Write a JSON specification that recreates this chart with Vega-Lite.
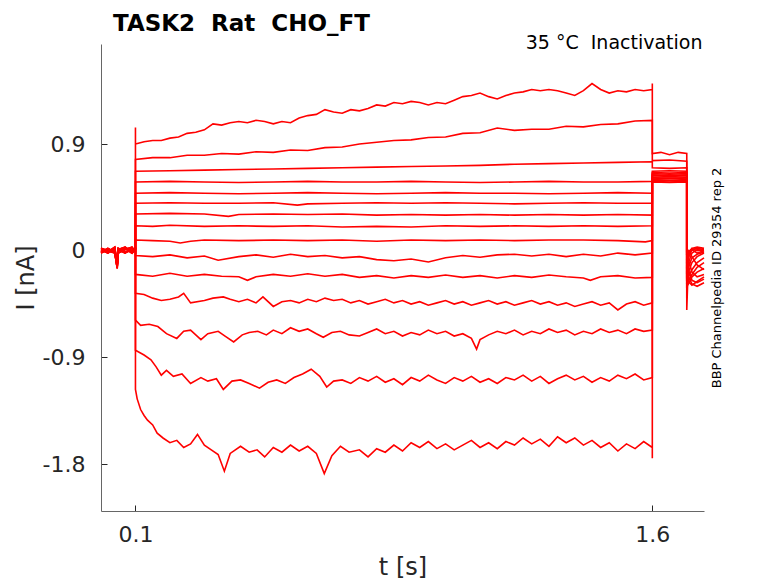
{
  "$schema": "https://vega.github.io/schema/vega-lite/v6.json",
  "width": 603,
  "height": 467,
  "autosize": "none",
  "padding": {"left": 101, "top": 44, "right": 74, "bottom": 72},
  "background": "white",
  "config": {"font": "DejaVu Sans", "view": {"stroke": null}},
  "title": {
    "text": "TASK2\u00a0 Rat\u00a0 CHO_FT",
    "anchor": "start",
    "frame": "group",
    "fontSize": 23,
    "fontWeight": "bold",
    "color": "#000000",
    "baseline": "alphabetic",
    "offset": -20,
    "dx": 12
  },
  "data": {
    "values": [
      {"s":1,"t":0,"i":0.01},{"s":1,"t":0.02,"i":-0.02},{"s":1,"t":0.04,"i":0.02},{"s":1,"t":0.047,"i":-0.13},{"s":1,"t":0.05,"i":0.0},{"s":1,"t":0.07,"i":0.02},{"s":1,"t":0.09,"i":-0.02},{"s":1,"t":0.1,"i":0.01},
      {"s":1,"t":0.1,"i":1.04},{"s":1,"t":0.1,"i":0.90},
      {"s":1,"t":0.125,"i":0.92},{"s":1,"t":0.15,"i":0.93},{"s":1,"t":0.175,"i":0.93},{"s":1,"t":0.2,"i":0.95},{"s":1,"t":0.225,"i":0.96},{"s":1,"t":0.25,"i":0.99},
      {"s":1,"t":0.275,"i":1.00},{"s":1,"t":0.3,"i":1.02},{"s":1,"t":0.325,"i":1.07},{"s":1,"t":0.35,"i":1.06},{"s":1,"t":0.375,"i":1.08},{"s":1,"t":0.4,"i":1.09},
      {"s":1,"t":0.425,"i":1.08},{"s":1,"t":0.45,"i":1.10},{"s":1,"t":0.475,"i":1.09},{"s":1,"t":0.5,"i":1.07},{"s":1,"t":0.525,"i":1.09},{"s":1,"t":0.55,"i":1.08},
      {"s":1,"t":0.575,"i":1.12},{"s":1,"t":0.6,"i":1.14},{"s":1,"t":0.625,"i":1.15},{"s":1,"t":0.65,"i":1.19},{"s":1,"t":0.675,"i":1.17},{"s":1,"t":0.7,"i":1.16},
      {"s":1,"t":0.725,"i":1.19},{"s":1,"t":0.75,"i":1.18},{"s":1,"t":0.775,"i":1.20},{"s":1,"t":0.8,"i":1.23},{"s":1,"t":0.825,"i":1.22},{"s":1,"t":0.85,"i":1.25},
      {"s":1,"t":0.875,"i":1.24},{"s":1,"t":0.9,"i":1.26},{"s":1,"t":0.925,"i":1.25},{"s":1,"t":0.95,"i":1.23},{"s":1,"t":0.975,"i":1.25},{"s":1,"t":1.0,"i":1.24},
      {"s":1,"t":1.025,"i":1.27},{"s":1,"t":1.05,"i":1.30},{"s":1,"t":1.075,"i":1.31},{"s":1,"t":1.1,"i":1.33},{"s":1,"t":1.125,"i":1.30},{"s":1,"t":1.15,"i":1.28},
      {"s":1,"t":1.175,"i":1.31},{"s":1,"t":1.2,"i":1.33},{"s":1,"t":1.225,"i":1.34},{"s":1,"t":1.25,"i":1.36},{"s":1,"t":1.275,"i":1.35},{"s":1,"t":1.3,"i":1.36},
      {"s":1,"t":1.325,"i":1.35},{"s":1,"t":1.35,"i":1.33},{"s":1,"t":1.375,"i":1.31},{"s":1,"t":1.4,"i":1.35},{"s":1,"t":1.425,"i":1.41},{"s":1,"t":1.45,"i":1.36},
      {"s":1,"t":1.475,"i":1.33},{"s":1,"t":1.5,"i":1.35},{"s":1,"t":1.525,"i":1.34},{"s":1,"t":1.55,"i":1.36},{"s":1,"t":1.575,"i":1.35},{"s":1,"t":1.6,"i":1.36},
      {"s":1,"t":1.6,"i":1.41},{"s":1,"t":1.6,"i":0.82},{"s":1,"t":1.625,"i":0.83},{"s":1,"t":1.65,"i":0.81},{"s":1,"t":1.675,"i":0.83},{"s":1,"t":1.7,"i":0.82},
      {"s":1,"t":1.7,"i":-0.50},{"s":1,"t":1.705,"i":-0.06},{"s":1,"t":1.715,"i":0.02},{"s":1,"t":1.73,"i":0.03},{"s":1,"t":1.75,"i":0.02},

      {"s":2,"t":0,"i":-0.01},{"s":2,"t":0.02,"i":0.02},{"s":2,"t":0.04,"i":-0.01},{"s":2,"t":0.047,"i":-0.15},{"s":2,"t":0.05,"i":0.01},{"s":2,"t":0.07,"i":-0.02},{"s":2,"t":0.09,"i":0.02},{"s":2,"t":0.1,"i":0.0},
      {"s":2,"t":0.1,"i":0.77},{"s":2,"t":0.15,"i":0.785},{"s":2,"t":0.2,"i":0.785},{"s":2,"t":0.25,"i":0.805},{"s":2,"t":0.3,"i":0.805},{"s":2,"t":0.35,"i":0.82},
      {"s":2,"t":0.4,"i":0.815},{"s":2,"t":0.45,"i":0.835},{"s":2,"t":0.5,"i":0.83},{"s":2,"t":0.55,"i":0.85},{"s":2,"t":0.6,"i":0.845},{"s":2,"t":0.65,"i":0.87},
      {"s":2,"t":0.7,"i":0.875},{"s":2,"t":0.75,"i":0.90},{"s":2,"t":0.8,"i":0.915},{"s":2,"t":0.85,"i":0.93},{"s":2,"t":0.9,"i":0.935},{"s":2,"t":0.95,"i":0.955},
      {"s":2,"t":1.0,"i":0.96},{"s":2,"t":1.05,"i":0.99},{"s":2,"t":1.1,"i":0.995},{"s":2,"t":1.15,"i":1.035},{"s":2,"t":1.2,"i":1.015},{"s":2,"t":1.25,"i":1.025},
      {"s":2,"t":1.3,"i":1.025},{"s":2,"t":1.35,"i":1.05},{"s":2,"t":1.4,"i":1.045},{"s":2,"t":1.45,"i":1.065},{"s":2,"t":1.5,"i":1.07},{"s":2,"t":1.55,"i":1.095},
      {"s":2,"t":1.6,"i":1.10},{"s":2,"t":1.6,"i":0.76},{"s":2,"t":1.65,"i":0.765},{"s":2,"t":1.7,"i":0.755},
      {"s":2,"t":1.7,"i":-0.40},{"s":2,"t":1.705,"i":-0.03},{"s":2,"t":1.715,"i":0.01},{"s":2,"t":1.73,"i":0.02},{"s":2,"t":1.75,"i":0.01},

      {"s":3,"t":0,"i":0.0},{"s":3,"t":0.02,"i":-0.01},{"s":3,"t":0.04,"i":0.03},{"s":3,"t":0.047,"i":-0.12},{"s":3,"t":0.05,"i":-0.02},{"s":3,"t":0.07,"i":0.01},{"s":3,"t":0.09,"i":0.03},{"s":3,"t":0.1,"i":-0.01},
      {"s":3,"t":0.1,"i":0.67},{"s":3,"t":0.2,"i":0.675},{"s":3,"t":0.3,"i":0.68},{"s":3,"t":0.4,"i":0.685},{"s":3,"t":0.5,"i":0.69},{"s":3,"t":0.6,"i":0.695},
      {"s":3,"t":0.7,"i":0.70},{"s":3,"t":0.8,"i":0.705},{"s":3,"t":0.9,"i":0.71},{"s":3,"t":1.0,"i":0.715},{"s":3,"t":1.1,"i":0.72},{"s":3,"t":1.2,"i":0.73},
      {"s":3,"t":1.3,"i":0.735},{"s":3,"t":1.4,"i":0.74},{"s":3,"t":1.5,"i":0.745},{"s":3,"t":1.6,"i":0.75},
      {"s":3,"t":1.6,"i":0.70},{"s":3,"t":1.65,"i":0.695},{"s":3,"t":1.7,"i":0.70},
      {"s":3,"t":1.7,"i":-0.32},{"s":3,"t":1.705,"i":-0.01},{"s":3,"t":1.715,"i":0.02},{"s":3,"t":1.73,"i":0.0},{"s":3,"t":1.75,"i":0.01},

      {"s":4,"t":0,"i":0.02},{"s":4,"t":0.02,"i":0.0},{"s":4,"t":0.04,"i":-0.02},{"s":4,"t":0.047,"i":-0.14},{"s":4,"t":0.05,"i":0.02},{"s":4,"t":0.07,"i":-0.01},{"s":4,"t":0.09,"i":0.0},{"s":4,"t":0.1,"i":0.02},
      {"s":4,"t":0.1,"i":0.58},{"s":4,"t":0.2,"i":0.585},{"s":4,"t":0.3,"i":0.58},{"s":4,"t":0.4,"i":0.575},{"s":4,"t":0.5,"i":0.58},{"s":4,"t":0.6,"i":0.585},
      {"s":4,"t":0.7,"i":0.58},{"s":4,"t":0.8,"i":0.58},{"s":4,"t":0.9,"i":0.585},{"s":4,"t":1.0,"i":0.58},{"s":4,"t":1.1,"i":0.575},{"s":4,"t":1.2,"i":0.58},
      {"s":4,"t":1.3,"i":0.585},{"s":4,"t":1.4,"i":0.58},{"s":4,"t":1.5,"i":0.58},{"s":4,"t":1.6,"i":0.585},
      {"s":4,"t":1.6,"i":0.67},{"s":4,"t":1.65,"i":0.675},{"s":4,"t":1.7,"i":0.67},
      {"s":4,"t":1.7,"i":-0.28},{"s":4,"t":1.705,"i":-0.10},{"s":4,"t":1.715,"i":-0.02},{"s":4,"t":1.73,"i":0.01},{"s":4,"t":1.75,"i":0.0},

      {"s":5,"t":0,"i":-0.02},{"s":5,"t":0.02,"i":0.01},{"s":5,"t":0.04,"i":0.0},{"s":5,"t":0.047,"i":-0.11},{"s":5,"t":0.05,"i":0.01},{"s":5,"t":0.07,"i":0.03},{"s":5,"t":0.09,"i":-0.01},{"s":5,"t":0.1,"i":0.01},
      {"s":5,"t":0.1,"i":0.485},{"s":5,"t":0.2,"i":0.49},{"s":5,"t":0.3,"i":0.485},{"s":5,"t":0.4,"i":0.48},{"s":5,"t":0.5,"i":0.485},{"s":5,"t":0.6,"i":0.49},
      {"s":5,"t":0.7,"i":0.485},{"s":5,"t":0.8,"i":0.48},{"s":5,"t":0.9,"i":0.485},{"s":5,"t":1.0,"i":0.49},{"s":5,"t":1.1,"i":0.485},{"s":5,"t":1.2,"i":0.485},
      {"s":5,"t":1.3,"i":0.48},{"s":5,"t":1.4,"i":0.485},{"s":5,"t":1.5,"i":0.49},{"s":5,"t":1.6,"i":0.485},
      {"s":5,"t":1.6,"i":0.66},{"s":5,"t":1.65,"i":0.655},{"s":5,"t":1.7,"i":0.66},
      {"s":5,"t":1.7,"i":-0.25},{"s":5,"t":1.705,"i":-0.05},{"s":5,"t":1.715,"i":0.01},{"s":5,"t":1.73,"i":-0.02},{"s":5,"t":1.75,"i":0.0},

      {"s":6,"t":0,"i":0.01},{"s":6,"t":0.02,"i":-0.02},{"s":6,"t":0.04,"i":0.02},{"s":6,"t":0.047,"i":-0.13},{"s":6,"t":0.05,"i":0.0},{"s":6,"t":0.07,"i":0.02},{"s":6,"t":0.09,"i":-0.02},{"s":6,"t":0.1,"i":0.01},
      {"s":6,"t":0.1,"i":0.40},{"s":6,"t":0.2,"i":0.405},{"s":6,"t":0.3,"i":0.40},{"s":6,"t":0.4,"i":0.40},{"s":6,"t":0.5,"i":0.405},{"s":6,"t":0.57,"i":0.385},
      {"s":6,"t":0.6,"i":0.395},{"s":6,"t":0.7,"i":0.40},{"s":6,"t":0.8,"i":0.405},{"s":6,"t":0.9,"i":0.40},{"s":6,"t":1.0,"i":0.405},{"s":6,"t":1.1,"i":0.40},
      {"s":6,"t":1.2,"i":0.395},{"s":6,"t":1.3,"i":0.40},{"s":6,"t":1.4,"i":0.405},{"s":6,"t":1.5,"i":0.40},{"s":6,"t":1.6,"i":0.40},
      {"s":6,"t":1.6,"i":0.65},{"s":6,"t":1.65,"i":0.645},{"s":6,"t":1.7,"i":0.65},
      {"s":6,"t":1.7,"i":-0.22},{"s":6,"t":1.705,"i":-0.14},{"s":6,"t":1.715,"i":-0.06},{"s":6,"t":1.73,"i":-0.03},{"s":6,"t":1.75,"i":-0.01},

      {"s":7,"t":0,"i":-0.01},{"s":7,"t":0.02,"i":0.02},{"s":7,"t":0.04,"i":-0.01},{"s":7,"t":0.047,"i":-0.15},{"s":7,"t":0.05,"i":0.01},{"s":7,"t":0.07,"i":-0.02},{"s":7,"t":0.09,"i":0.02},{"s":7,"t":0.1,"i":0.0},
      {"s":7,"t":0.1,"i":0.31},{"s":7,"t":0.2,"i":0.315},{"s":7,"t":0.3,"i":0.31},{"s":7,"t":0.37,"i":0.29},{"s":7,"t":0.4,"i":0.305},{"s":7,"t":0.5,"i":0.31},
      {"s":7,"t":0.6,"i":0.305},{"s":7,"t":0.7,"i":0.31},{"s":7,"t":0.8,"i":0.30},{"s":7,"t":0.9,"i":0.305},{"s":7,"t":1.0,"i":0.30},{"s":7,"t":1.1,"i":0.305},
      {"s":7,"t":1.2,"i":0.30},{"s":7,"t":1.3,"i":0.305},{"s":7,"t":1.4,"i":0.30},{"s":7,"t":1.5,"i":0.305},{"s":7,"t":1.6,"i":0.30},
      {"s":7,"t":1.6,"i":0.64},{"s":7,"t":1.65,"i":0.635},{"s":7,"t":1.7,"i":0.64},
      {"s":7,"t":1.7,"i":-0.24},{"s":7,"t":1.705,"i":-0.18},{"s":7,"t":1.715,"i":-0.10},{"s":7,"t":1.73,"i":-0.05},{"s":7,"t":1.75,"i":-0.02},

      {"s":8,"t":0,"i":0.0},{"s":8,"t":0.02,"i":-0.01},{"s":8,"t":0.04,"i":0.03},{"s":8,"t":0.047,"i":-0.12},{"s":8,"t":0.05,"i":-0.02},{"s":8,"t":0.07,"i":0.01},{"s":8,"t":0.09,"i":0.03},{"s":8,"t":0.1,"i":-0.01},
      {"s":8,"t":0.1,"i":0.21},{"s":8,"t":0.15,"i":0.205},{"s":8,"t":0.2,"i":0.215},{"s":8,"t":0.3,"i":0.205},{"s":8,"t":0.4,"i":0.21},{"s":8,"t":0.5,"i":0.205},
      {"s":8,"t":0.6,"i":0.21},{"s":8,"t":0.7,"i":0.20},{"s":8,"t":0.8,"i":0.205},{"s":8,"t":0.9,"i":0.20},{"s":8,"t":1.0,"i":0.21},{"s":8,"t":1.1,"i":0.205},
      {"s":8,"t":1.2,"i":0.21},{"s":8,"t":1.3,"i":0.205},{"s":8,"t":1.4,"i":0.21},{"s":8,"t":1.5,"i":0.205},{"s":8,"t":1.6,"i":0.21},
      {"s":8,"t":1.6,"i":0.63},{"s":8,"t":1.65,"i":0.635},{"s":8,"t":1.7,"i":0.63},
      {"s":8,"t":1.7,"i":-0.26},{"s":8,"t":1.705,"i":-0.22},{"s":8,"t":1.715,"i":-0.16},{"s":8,"t":1.73,"i":-0.10},{"s":8,"t":1.75,"i":-0.06},

      {"s":9,"t":0,"i":0.02},{"s":9,"t":0.02,"i":0.0},{"s":9,"t":0.04,"i":-0.02},{"s":9,"t":0.047,"i":-0.14},{"s":9,"t":0.05,"i":0.02},{"s":9,"t":0.07,"i":-0.01},{"s":9,"t":0.09,"i":0.0},{"s":9,"t":0.1,"i":0.02},
      {"s":9,"t":0.1,"i":0.09},{"s":9,"t":0.15,"i":0.085},{"s":9,"t":0.2,"i":0.08},{"s":9,"t":0.23,"i":0.065},{"s":9,"t":0.26,"i":0.08},{"s":9,"t":0.3,"i":0.09},
      {"s":9,"t":0.4,"i":0.085},{"s":9,"t":0.5,"i":0.09},{"s":9,"t":0.6,"i":0.085},{"s":9,"t":0.7,"i":0.09},{"s":9,"t":0.8,"i":0.08},{"s":9,"t":0.9,"i":0.09},
      {"s":9,"t":1.0,"i":0.085},{"s":9,"t":1.1,"i":0.09},{"s":9,"t":1.2,"i":0.085},{"s":9,"t":1.3,"i":0.09},{"s":9,"t":1.4,"i":0.09},{"s":9,"t":1.5,"i":0.085},
      {"s":9,"t":1.58,"i":0.075},{"s":9,"t":1.6,"i":0.085},
      {"s":9,"t":1.6,"i":0.62},{"s":9,"t":1.65,"i":0.625},{"s":9,"t":1.7,"i":0.62},
      {"s":9,"t":1.7,"i":-0.28},{"s":9,"t":1.705,"i":-0.25},{"s":9,"t":1.715,"i":-0.20},{"s":9,"t":1.73,"i":-0.14},{"s":9,"t":1.75,"i":-0.10},

      {"s":10,"t":0,"i":-0.02},{"s":10,"t":0.02,"i":0.01},{"s":10,"t":0.04,"i":0.0},{"s":10,"t":0.047,"i":-0.11},{"s":10,"t":0.05,"i":0.01},{"s":10,"t":0.07,"i":0.03},{"s":10,"t":0.09,"i":-0.01},{"s":10,"t":0.1,"i":0.01},
      {"s":10,"t":0.1,"i":-0.04},{"s":10,"t":0.15,"i":-0.05},{"s":10,"t":0.2,"i":-0.035},{"s":10,"t":0.25,"i":-0.06},{"s":10,"t":0.3,"i":-0.045},{"s":10,"t":0.34,"i":-0.08},
      {"s":10,"t":0.4,"i":-0.05},{"s":10,"t":0.45,"i":-0.035},{"s":10,"t":0.5,"i":-0.055},{"s":10,"t":0.55,"i":-0.03},{"s":10,"t":0.6,"i":-0.05},{"s":10,"t":0.65,"i":-0.04},
      {"s":10,"t":0.7,"i":-0.06},{"s":10,"t":0.75,"i":-0.05},{"s":10,"t":0.8,"i":-0.075},{"s":10,"t":0.85,"i":-0.085},{"s":10,"t":0.9,"i":-0.07},{"s":10,"t":0.95,"i":-0.095},
      {"s":10,"t":1.0,"i":-0.06},{"s":10,"t":1.05,"i":-0.04},{"s":10,"t":1.1,"i":-0.055},{"s":10,"t":1.15,"i":-0.035},{"s":10,"t":1.2,"i":-0.03},{"s":10,"t":1.25,"i":-0.045},
      {"s":10,"t":1.3,"i":-0.03},{"s":10,"t":1.35,"i":-0.05},{"s":10,"t":1.4,"i":-0.03},{"s":10,"t":1.45,"i":-0.045},{"s":10,"t":1.5,"i":-0.02},{"s":10,"t":1.55,"i":-0.035},{"s":10,"t":1.6,"i":-0.02},
      {"s":10,"t":1.6,"i":0.615},{"s":10,"t":1.65,"i":0.61},{"s":10,"t":1.7,"i":0.615},
      {"s":10,"t":1.7,"i":-0.30},{"s":10,"t":1.705,"i":-0.28},{"s":10,"t":1.715,"i":-0.22},{"s":10,"t":1.73,"i":-0.18},{"s":10,"t":1.75,"i":-0.15},

      {"s":11,"t":0,"i":0.01},{"s":11,"t":0.02,"i":-0.02},{"s":11,"t":0.04,"i":0.02},{"s":11,"t":0.047,"i":-0.13},{"s":11,"t":0.05,"i":0.0},{"s":11,"t":0.07,"i":0.02},{"s":11,"t":0.09,"i":-0.02},{"s":11,"t":0.1,"i":0.01},
      {"s":11,"t":0.1,"i":-0.20},{"s":11,"t":0.15,"i":-0.215},{"s":11,"t":0.2,"i":-0.19},{"s":11,"t":0.25,"i":-0.215},{"s":11,"t":0.3,"i":-0.20},{"s":11,"t":0.35,"i":-0.215},
      {"s":11,"t":0.4,"i":-0.22},{"s":11,"t":0.425,"i":-0.25},{"s":11,"t":0.45,"i":-0.22},{"s":11,"t":0.5,"i":-0.20},{"s":11,"t":0.55,"i":-0.215},{"s":11,"t":0.6,"i":-0.195},
      {"s":11,"t":0.65,"i":-0.215},{"s":11,"t":0.7,"i":-0.20},{"s":11,"t":0.75,"i":-0.225},{"s":11,"t":0.8,"i":-0.21},{"s":11,"t":0.85,"i":-0.23},{"s":11,"t":0.9,"i":-0.21},
      {"s":11,"t":0.95,"i":-0.225},{"s":11,"t":1.0,"i":-0.205},{"s":11,"t":1.05,"i":-0.225},{"s":11,"t":1.1,"i":-0.21},{"s":11,"t":1.15,"i":-0.23},{"s":11,"t":1.2,"i":-0.21},
      {"s":11,"t":1.25,"i":-0.225},{"s":11,"t":1.3,"i":-0.205},{"s":11,"t":1.35,"i":-0.22},{"s":11,"t":1.4,"i":-0.23},{"s":11,"t":1.42,"i":-0.25},{"s":11,"t":1.45,"i":-0.22},
      {"s":11,"t":1.5,"i":-0.21},{"s":11,"t":1.55,"i":-0.23},{"s":11,"t":1.6,"i":-0.225},
      {"s":11,"t":1.6,"i":0.605},{"s":11,"t":1.65,"i":0.61},{"s":11,"t":1.7,"i":0.605},
      {"s":11,"t":1.7,"i":-0.20},{"s":11,"t":1.705,"i":-0.26},{"s":11,"t":1.715,"i":-0.29},{"s":11,"t":1.73,"i":-0.26},{"s":11,"t":1.75,"i":-0.22},

      {"s":12,"t":0,"i":-0.01},{"s":12,"t":0.02,"i":0.02},{"s":12,"t":0.04,"i":-0.01},{"s":12,"t":0.047,"i":-0.15},{"s":12,"t":0.05,"i":0.01},{"s":12,"t":0.07,"i":-0.02},{"s":12,"t":0.09,"i":0.02},{"s":12,"t":0.1,"i":0.0},
      {"s":12,"t":0.1,"i":-0.36},{"s":12,"t":0.125,"i":-0.37},{"s":12,"t":0.15,"i":-0.40},{"s":12,"t":0.175,"i":-0.42},{"s":12,"t":0.2,"i":-0.41},{"s":12,"t":0.225,"i":-0.39},
      {"s":12,"t":0.24,"i":-0.36},{"s":12,"t":0.26,"i":-0.44},{"s":12,"t":0.3,"i":-0.42},{"s":12,"t":0.325,"i":-0.40},{"s":12,"t":0.355,"i":-0.39},{"s":12,"t":0.375,"i":-0.41},
      {"s":12,"t":0.4,"i":-0.43},{"s":12,"t":0.425,"i":-0.41},{"s":12,"t":0.45,"i":-0.44},{"s":12,"t":0.47,"i":-0.39},{"s":12,"t":0.5,"i":-0.47},{"s":12,"t":0.525,"i":-0.43},
      {"s":12,"t":0.55,"i":-0.42},{"s":12,"t":0.575,"i":-0.44},{"s":12,"t":0.6,"i":-0.41},{"s":12,"t":0.625,"i":-0.43},{"s":12,"t":0.65,"i":-0.40},{"s":12,"t":0.675,"i":-0.42},
      {"s":12,"t":0.7,"i":-0.41},{"s":12,"t":0.725,"i":-0.44},{"s":12,"t":0.75,"i":-0.42},{"s":12,"t":0.775,"i":-0.45},{"s":12,"t":0.8,"i":-0.43},{"s":12,"t":0.825,"i":-0.41},
      {"s":12,"t":0.85,"i":-0.44},{"s":12,"t":0.875,"i":-0.42},{"s":12,"t":0.9,"i":-0.45},{"s":12,"t":0.925,"i":-0.43},{"s":12,"t":0.95,"i":-0.46},{"s":12,"t":0.975,"i":-0.44},
      {"s":12,"t":1.0,"i":-0.42},{"s":12,"t":1.025,"i":-0.45},{"s":12,"t":1.05,"i":-0.43},{"s":12,"t":1.075,"i":-0.46},{"s":12,"t":1.1,"i":-0.44},{"s":12,"t":1.125,"i":-0.42},
      {"s":12,"t":1.15,"i":-0.45},{"s":12,"t":1.175,"i":-0.43},{"s":12,"t":1.2,"i":-0.46},{"s":12,"t":1.225,"i":-0.44},{"s":12,"t":1.25,"i":-0.42},{"s":12,"t":1.275,"i":-0.45},
      {"s":12,"t":1.3,"i":-0.43},{"s":12,"t":1.325,"i":-0.46},{"s":12,"t":1.35,"i":-0.44},{"s":12,"t":1.375,"i":-0.47},{"s":12,"t":1.4,"i":-0.45},{"s":12,"t":1.425,"i":-0.43},
      {"s":12,"t":1.45,"i":-0.46},{"s":12,"t":1.475,"i":-0.44},{"s":12,"t":1.5,"i":-0.50},{"s":12,"t":1.525,"i":-0.45},{"s":12,"t":1.55,"i":-0.43},{"s":12,"t":1.575,"i":-0.46},{"s":12,"t":1.6,"i":-0.44},
      {"s":12,"t":1.6,"i":0.60},{"s":12,"t":1.65,"i":0.595},{"s":12,"t":1.7,"i":0.60},
      {"s":12,"t":1.7,"i":-0.15},{"s":12,"t":1.705,"i":-0.22},{"s":12,"t":1.715,"i":-0.28},{"s":12,"t":1.73,"i":-0.30},{"s":12,"t":1.75,"i":-0.27},

      {"s":13,"t":0,"i":0.0},{"s":13,"t":0.02,"i":-0.01},{"s":13,"t":0.04,"i":0.03},{"s":13,"t":0.047,"i":-0.12},{"s":13,"t":0.05,"i":-0.02},{"s":13,"t":0.07,"i":0.01},{"s":13,"t":0.09,"i":0.03},{"s":13,"t":0.1,"i":-0.01},
      {"s":13,"t":0.1,"i":-0.585},{"s":13,"t":0.115,"i":-0.63},{"s":13,"t":0.14,"i":-0.62},{"s":13,"t":0.165,"i":-0.64},{"s":13,"t":0.19,"i":-0.70},{"s":13,"t":0.22,"i":-0.74},
      {"s":13,"t":0.24,"i":-0.68},{"s":13,"t":0.26,"i":-0.67},{"s":13,"t":0.29,"i":-0.75},{"s":13,"t":0.31,"i":-0.70},{"s":13,"t":0.34,"i":-0.68},{"s":13,"t":0.36,"i":-0.72},
      {"s":13,"t":0.385,"i":-0.77},{"s":13,"t":0.41,"i":-0.71},{"s":13,"t":0.43,"i":-0.69},{"s":13,"t":0.455,"i":-0.68},{"s":13,"t":0.48,"i":-0.71},{"s":13,"t":0.5,"i":-0.67},
      {"s":13,"t":0.525,"i":-0.70},{"s":13,"t":0.55,"i":-0.65},{"s":13,"t":0.575,"i":-0.68},{"s":13,"t":0.6,"i":-0.66},{"s":13,"t":0.625,"i":-0.70},{"s":13,"t":0.645,"i":-0.73},
      {"s":13,"t":0.67,"i":-0.69},{"s":13,"t":0.695,"i":-0.68},{"s":13,"t":0.72,"i":-0.71},{"s":13,"t":0.75,"i":-0.72},{"s":13,"t":0.775,"i":-0.69},{"s":13,"t":0.8,"i":-0.66},
      {"s":13,"t":0.825,"i":-0.70},{"s":13,"t":0.85,"i":-0.68},{"s":13,"t":0.875,"i":-0.72},{"s":13,"t":0.9,"i":-0.69},{"s":13,"t":0.925,"i":-0.71},{"s":13,"t":0.95,"i":-0.67},
      {"s":13,"t":0.975,"i":-0.70},{"s":13,"t":1.0,"i":-0.68},{"s":13,"t":1.025,"i":-0.72},{"s":13,"t":1.05,"i":-0.70},{"s":13,"t":1.075,"i":-0.74},{"s":13,"t":1.09,"i":-0.83},
      {"s":13,"t":1.1,"i":-0.75},{"s":13,"t":1.125,"i":-0.71},{"s":13,"t":1.15,"i":-0.68},{"s":13,"t":1.175,"i":-0.70},{"s":13,"t":1.2,"i":-0.67},{"s":13,"t":1.225,"i":-0.71},
      {"s":13,"t":1.25,"i":-0.68},{"s":13,"t":1.275,"i":-0.70},{"s":13,"t":1.3,"i":-0.66},{"s":13,"t":1.325,"i":-0.69},{"s":13,"t":1.35,"i":-0.67},{"s":13,"t":1.375,"i":-0.71},
      {"s":13,"t":1.4,"i":-0.68},{"s":13,"t":1.425,"i":-0.70},{"s":13,"t":1.45,"i":-0.66},{"s":13,"t":1.475,"i":-0.69},{"s":13,"t":1.5,"i":-0.67},{"s":13,"t":1.525,"i":-0.70},
      {"s":13,"t":1.55,"i":-0.66},{"s":13,"t":1.575,"i":-0.68},{"s":13,"t":1.6,"i":-0.67},
      {"s":13,"t":1.6,"i":0.595},{"s":13,"t":1.65,"i":0.59},{"s":13,"t":1.7,"i":0.59},
      {"s":13,"t":1.7,"i":-0.10},{"s":13,"t":1.705,"i":-0.16},{"s":13,"t":1.715,"i":-0.25},{"s":13,"t":1.73,"i":-0.27},{"s":13,"t":1.75,"i":-0.24},

      {"s":14,"t":0,"i":0.02},{"s":14,"t":0.02,"i":0.0},{"s":14,"t":0.04,"i":-0.02},{"s":14,"t":0.047,"i":-0.14},{"s":14,"t":0.05,"i":0.02},{"s":14,"t":0.07,"i":-0.01},{"s":14,"t":0.09,"i":0.0},{"s":14,"t":0.1,"i":0.02},
      {"s":14,"t":0.1,"i":-0.84},{"s":14,"t":0.125,"i":-0.88},{"s":14,"t":0.145,"i":-0.92},{"s":14,"t":0.16,"i":-0.98},{"s":14,"t":0.175,"i":-1.05},{"s":14,"t":0.19,"i":-1.01},
      {"s":14,"t":0.21,"i":-1.06},{"s":14,"t":0.235,"i":-1.04},{"s":14,"t":0.26,"i":-1.12},{"s":14,"t":0.29,"i":-1.07},{"s":14,"t":0.31,"i":-1.10},{"s":14,"t":0.335,"i":-1.08},
      {"s":14,"t":0.355,"i":-1.17},{"s":14,"t":0.38,"i":-1.10},{"s":14,"t":0.405,"i":-1.09},{"s":14,"t":0.43,"i":-1.12},{"s":14,"t":0.46,"i":-1.16},{"s":14,"t":0.485,"i":-1.11},
      {"s":14,"t":0.51,"i":-1.09},{"s":14,"t":0.535,"i":-1.12},{"s":14,"t":0.56,"i":-1.07},{"s":14,"t":0.585,"i":-1.04},{"s":14,"t":0.61,"i":-1.00},{"s":14,"t":0.635,"i":-1.06},
      {"s":14,"t":0.655,"i":-1.15},{"s":14,"t":0.675,"i":-1.10},{"s":14,"t":0.7,"i":-1.09},{"s":14,"t":0.725,"i":-1.12},{"s":14,"t":0.75,"i":-1.07},{"s":14,"t":0.775,"i":-1.10},
      {"s":14,"t":0.8,"i":-1.06},{"s":14,"t":0.825,"i":-1.11},{"s":14,"t":0.85,"i":-1.08},{"s":14,"t":0.875,"i":-1.13},{"s":14,"t":0.9,"i":-1.07},{"s":14,"t":0.925,"i":-1.10},
      {"s":14,"t":0.95,"i":-1.05},{"s":14,"t":0.975,"i":-1.09},{"s":14,"t":1.0,"i":-1.12},{"s":14,"t":1.025,"i":-1.07},{"s":14,"t":1.05,"i":-1.10},{"s":14,"t":1.075,"i":-1.06},
      {"s":14,"t":1.1,"i":-1.11},{"s":14,"t":1.125,"i":-1.08},{"s":14,"t":1.15,"i":-1.12},{"s":14,"t":1.175,"i":-1.07},{"s":14,"t":1.2,"i":-1.09},{"s":14,"t":1.225,"i":-1.05},
      {"s":14,"t":1.25,"i":-1.10},{"s":14,"t":1.275,"i":-1.06},{"s":14,"t":1.3,"i":-1.12},{"s":14,"t":1.325,"i":-1.08},{"s":14,"t":1.35,"i":-1.05},{"s":14,"t":1.375,"i":-1.09},
      {"s":14,"t":1.4,"i":-1.06},{"s":14,"t":1.425,"i":-1.11},{"s":14,"t":1.45,"i":-1.07},{"s":14,"t":1.475,"i":-1.10},{"s":14,"t":1.5,"i":-1.05},{"s":14,"t":1.525,"i":-1.08},
      {"s":14,"t":1.55,"i":-1.04},{"s":14,"t":1.575,"i":-1.09},{"s":14,"t":1.6,"i":-1.07},
      {"s":14,"t":1.6,"i":0.585},{"s":14,"t":1.65,"i":0.58},{"s":14,"t":1.7,"i":0.585},
      {"s":14,"t":1.7,"i":-0.05},{"s":14,"t":1.705,"i":-0.08},{"s":14,"t":1.715,"i":-0.18},{"s":14,"t":1.73,"i":-0.22},{"s":14,"t":1.75,"i":-0.20},

      {"s":15,"t":0,"i":-0.02},{"s":15,"t":0.02,"i":0.01},{"s":15,"t":0.04,"i":0.0},{"s":15,"t":0.047,"i":-0.11},{"s":15,"t":0.05,"i":0.01},{"s":15,"t":0.07,"i":0.03},{"s":15,"t":0.09,"i":-0.01},{"s":15,"t":0.1,"i":0.01},
      {"s":15,"t":0.1,"i":-1.17},{"s":15,"t":0.105,"i":-1.25},{"s":15,"t":0.115,"i":-1.34},{"s":15,"t":0.125,"i":-1.39},{"s":15,"t":0.135,"i":-1.43},{"s":15,"t":0.15,"i":-1.47},
      {"s":15,"t":0.163,"i":-1.54},{"s":15,"t":0.18,"i":-1.58},{"s":15,"t":0.2,"i":-1.62},{"s":15,"t":0.22,"i":-1.60},{"s":15,"t":0.24,"i":-1.66},{"s":15,"t":0.26,"i":-1.63},
      {"s":15,"t":0.28,"i":-1.55},{"s":15,"t":0.3,"i":-1.64},{"s":15,"t":0.32,"i":-1.68},{"s":15,"t":0.34,"i":-1.72},{"s":15,"t":0.358,"i":-1.86},{"s":15,"t":0.375,"i":-1.71},
      {"s":15,"t":0.405,"i":-1.65},{"s":15,"t":0.43,"i":-1.70},{"s":15,"t":0.453,"i":-1.68},{"s":15,"t":0.475,"i":-1.74},{"s":15,"t":0.5,"i":-1.66},{"s":15,"t":0.525,"i":-1.70},
      {"s":15,"t":0.55,"i":-1.64},{"s":15,"t":0.575,"i":-1.69},{"s":15,"t":0.6,"i":-1.65},{"s":15,"t":0.625,"i":-1.71},{"s":15,"t":0.648,"i":-1.88},{"s":15,"t":0.67,"i":-1.73},
      {"s":15,"t":0.695,"i":-1.65},{"s":15,"t":0.72,"i":-1.70},{"s":15,"t":0.75,"i":-1.68},{"s":15,"t":0.775,"i":-1.74},{"s":15,"t":0.8,"i":-1.67},{"s":15,"t":0.825,"i":-1.70},
      {"s":15,"t":0.85,"i":-1.64},{"s":15,"t":0.875,"i":-1.69},{"s":15,"t":0.9,"i":-1.62},{"s":15,"t":0.925,"i":-1.66},{"s":15,"t":0.95,"i":-1.61},{"s":15,"t":0.975,"i":-1.67},
      {"s":15,"t":1.0,"i":-1.63},{"s":15,"t":1.025,"i":-1.68},{"s":15,"t":1.05,"i":-1.64},{"s":15,"t":1.075,"i":-1.60},{"s":15,"t":1.1,"i":-1.66},{"s":15,"t":1.125,"i":-1.62},
      {"s":15,"t":1.15,"i":-1.67},{"s":15,"t":1.175,"i":-1.61},{"s":15,"t":1.2,"i":-1.64},{"s":15,"t":1.225,"i":-1.58},{"s":15,"t":1.25,"i":-1.63},{"s":15,"t":1.275,"i":-1.59},
      {"s":15,"t":1.3,"i":-1.65},{"s":15,"t":1.325,"i":-1.57},{"s":15,"t":1.35,"i":-1.62},{"s":15,"t":1.375,"i":-1.58},{"s":15,"t":1.4,"i":-1.64},{"s":15,"t":1.425,"i":-1.60},
      {"s":15,"t":1.45,"i":-1.66},{"s":15,"t":1.475,"i":-1.62},{"s":15,"t":1.5,"i":-1.69},{"s":15,"t":1.525,"i":-1.63},{"s":15,"t":1.55,"i":-1.67},{"s":15,"t":1.575,"i":-1.61},
      {"s":15,"t":1.6,"i":-1.66},{"s":15,"t":1.6,"i":-1.75},{"s":15,"t":1.6,"i":0.58},{"s":15,"t":1.65,"i":0.575},{"s":15,"t":1.7,"i":0.58},
      {"s":15,"t":1.7,"i":-0.02},{"s":15,"t":1.705,"i":0.0},{"s":15,"t":1.715,"i":-0.05},{"s":15,"t":1.73,"i":-0.12},{"s":15,"t":1.75,"i":-0.16}
    ]
  },
  "layer": [
    {
      "mark": {"type": "line", "color": "#ff0000", "strokeWidth": 1.6},
      "encoding": {
        "x": {
          "field": "t",
          "type": "quantitative",
          "scale": {"domain": [0, 1.75], "nice": false, "zero": false},
          "axis": {
            "orient": "bottom",
            "values": [0.1, 1.6],
            "labelExpr": "toString(datum.value)",
            "labelFontSize": 22,
            "labelColor": "#262626",
            "labelPadding": 19,
            "labelFlush": false,
            "tickSize": -6,
            "tickColor": "#262626",
            "domainColor": "#666666",
            "grid": false,
            "title": "t [s]",
            "titleFontSize": 24,
            "titleFontWeight": "normal",
            "titleColor": "#262626",
            "titleX": 301.5,
            "titleY": 56,
            "titleAlign": "center",
            "titleBaseline": "middle"
          }
        },
        "y": {
          "field": "i",
          "type": "quantitative",
          "scale": {"domain": [-2.196, 1.744], "nice": false, "zero": false},
          "axis": {
            "orient": "left",
            "values": [-1.8, -0.9, 0, 0.9],
            "labelExpr": "toString(datum.value)",
            "labelFontSize": 22,
            "labelColor": "#262626",
            "labelPadding": 22,
            "labelFlush": false,
            "tickSize": -6,
            "tickColor": "#262626",
            "domainColor": "#666666",
            "grid": false,
            "title": "I [nA]",
            "titleFontSize": 24,
            "titleFontWeight": "normal",
            "titleColor": "#262626",
            "titleAngle": -90,
            "titleX": -75,
            "titleY": 233.5,
            "titleAlign": "center",
            "titleBaseline": "middle"
          }
        },
        "detail": {"field": "s", "type": "nominal"},
        "order": {"value": null}
      }
    },
    {
      "mark": {"type": "line", "opacity": 0},
      "encoding": {
        "x": {
          "field": "t",
          "type": "quantitative",
          "axis": {
            "orient": "top",
            "domain": false,
            "ticks": false,
            "labels": false,
            "grid": false,
            "title": "35 °C\u00a0 Inactivation",
            "titleFontSize": 19,
            "titleFontWeight": "normal",
            "titleColor": "#000000",
            "titleX": 601,
            "titleY": 4.5,
            "titleAlign": "right",
            "titleBaseline": "alphabetic"
          }
        },
        "y": {
          "field": "i",
          "type": "quantitative",
          "axis": {
            "orient": "right",
            "domain": false,
            "ticks": false,
            "labels": false,
            "grid": false,
            "title": "BBP Channelpedia ID 29354 rep 2",
            "titleFontSize": 13,
            "titleFontWeight": "normal",
            "titleColor": "#000000",
            "titleAngle": -90,
            "titleX": 12.5,
            "titleY": 233.5,
            "titleAlign": "center",
            "titleBaseline": "middle"
          }
        },
        "detail": {"field": "s", "type": "nominal"},
        "order": {"value": null}
      }
    }
  ],
  "resolve": {"axis": {"x": "independent", "y": "independent"}}
}
